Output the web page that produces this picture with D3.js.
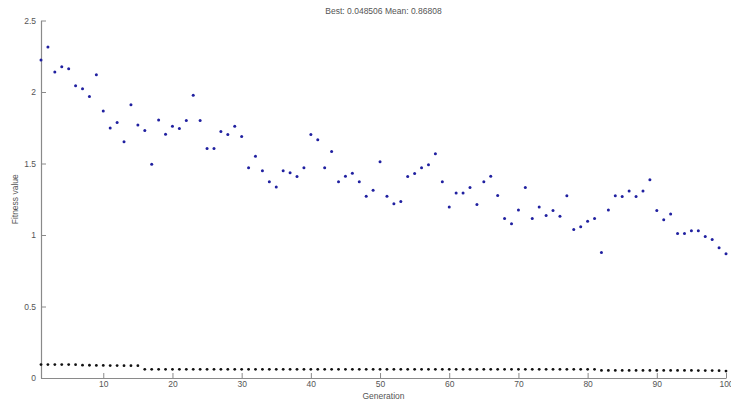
<!DOCTYPE html>
<html>
<head>
<meta charset="utf-8">
<script src="https://cdn.jsdelivr.net/npm/d3@7"></script>
<style>
  html, body { margin: 0; padding: 0; background: #fff; }
  svg { display: block; font-family: "Liberation Sans", Arial, sans-serif; }
</style>
</head>
<body>
<svg id="chart" width="731" height="402"></svg>
<script>
// Mean fitness per generation (blue) and best fitness per generation (black)
const meanFitness = [
  2.223, 2.314, 2.139, 2.176, 2.162, 2.043, 2.022, 1.969, 2.120, 1.868,
  1.749, 1.787, 1.652, 1.910, 1.770, 1.731, 1.495, 1.805, 1.705, 1.761,
  1.745, 1.801, 1.978, 1.801, 1.605, 1.605, 1.724, 1.703, 1.761, 1.688,
  1.470, 1.551, 1.449, 1.372, 1.335, 1.449, 1.435, 1.409, 1.470, 1.703,
  1.666, 1.470, 1.584, 1.372, 1.411, 1.432, 1.372, 1.271, 1.313, 1.512,
  1.271, 1.218, 1.234, 1.409, 1.430, 1.470, 1.491, 1.568, 1.372, 1.195,
  1.293, 1.293, 1.332, 1.213, 1.372, 1.411, 1.276, 1.115, 1.078, 1.174,
  1.332, 1.115, 1.195, 1.136, 1.171, 1.131, 1.274, 1.038, 1.057, 1.097,
  1.115, 0.878, 1.174, 1.274, 1.269, 1.307, 1.269, 1.307, 1.386, 1.171,
  1.106, 1.146, 1.011, 1.011, 1.029, 1.029, 0.990, 0.969, 0.910, 0.86808
];
const bestFitness = [
  0.094, 0.094, 0.094, 0.094, 0.094, 0.093, 0.090, 0.089, 0.088, 0.088,
  0.087, 0.087, 0.086, 0.086, 0.086, 0.061, 0.061, 0.061, 0.061, 0.061,
  0.061, 0.061, 0.061, 0.061, 0.061, 0.061, 0.061, 0.061, 0.061, 0.061,
  0.061, 0.061, 0.061, 0.061, 0.061, 0.061, 0.061, 0.061, 0.061, 0.061,
  0.061, 0.061, 0.061, 0.061, 0.061, 0.061, 0.061, 0.061, 0.061, 0.061,
  0.061, 0.061, 0.061, 0.061, 0.061, 0.061, 0.061, 0.061, 0.061, 0.061,
  0.061, 0.061, 0.061, 0.061, 0.061, 0.061, 0.061, 0.061, 0.061, 0.061,
  0.061, 0.061, 0.061, 0.061, 0.061, 0.061, 0.061, 0.061, 0.061, 0.061,
  0.061, 0.053, 0.053, 0.053, 0.053, 0.053, 0.053, 0.053, 0.053, 0.053,
  0.053, 0.053, 0.053, 0.053, 0.053, 0.052, 0.052, 0.052, 0.051, 0.048506
];
const generations = d3.range(1, meanFitness.length + 1);
const xTicks = [10, 20, 30, 40, 50, 60, 70, 80, 90, 100];
const yTicks = [0, 0.5, 1, 1.5, 2, 2.5];
const titleText = "Best: 0.048506 Mean: 0.86808";

const svg = d3.select("#chart");
const x = d3.scaleLinear().domain([1, 100]).range([41, 726]);
const y = d3.scaleLinear().domain([0, 2.5]).range([378, 20.5]);

const axisColor = "#8a8a8a";
const textColor = "#555";

// Axes: MATLAB style, ticks pointing inward
const xAxis = svg.append("g")
  .attr("transform", `translate(0,${y(0)})`)
  .call(d3.axisBottom(x).tickValues(xTicks).tickSizeInner(-5).tickSizeOuter(0).tickPadding(3).tickFormat(d3.format("d")));
const yAxis = svg.append("g")
  .attr("transform", `translate(${x(1)},0)`)
  .call(d3.axisLeft(y).tickValues(yTicks).tickSizeInner(-5).tickSizeOuter(0).tickPadding(5).tickFormat(d => String(d)));

[xAxis, yAxis].forEach(g => {
  g.select(".domain").attr("stroke", axisColor).attr("stroke-width", 1.2);
  g.selectAll(".tick line").attr("stroke", axisColor);
  g.selectAll(".tick text")
    .attr("fill", textColor)
    .style("font-size", "8.5px")
    .style("font-family", "Liberation Sans, Arial, sans-serif");
});
yAxis.selectAll(".tick text").attr("dy", "0.35em");

// Best-fitness points
svg.append("g").selectAll("circle")
  .data(generations)
  .join("circle")
  .attr("cx", g => x(g))
  .attr("cy", g => y(bestFitness[g - 1]))
  .attr("r", 1.4)
  .attr("fill", "#111");

// Mean-fitness points
svg.append("g").selectAll("circle")
  .data(generations)
  .join("circle")
  .attr("cx", g => x(g))
  .attr("cy", g => y(meanFitness[g - 1]))
  .attr("r", 1.5)
  .attr("fill", "#2020a0");

// Title and axis labels
svg.append("text")
  .attr("x", (x(1) + x(100)) / 2)
  .attr("y", 14)
  .attr("text-anchor", "middle")
  .attr("fill", textColor)
  .style("font-size", "8.5px")
  .text(titleText);

svg.append("text")
  .attr("x", (x(1) + x(100)) / 2)
  .attr("y", 399)
  .attr("text-anchor", "middle")
  .attr("fill", textColor)
  .style("font-size", "8.5px")
  .text("Generation");

svg.append("text")
  .attr("transform", `translate(18,${(y(0) + y(2.5)) / 2}) rotate(-90)`)
  .attr("text-anchor", "middle")
  .attr("fill", textColor)
  .style("font-size", "8.5px")
  .text("Fitness value");
</script>
</body>
</html>
